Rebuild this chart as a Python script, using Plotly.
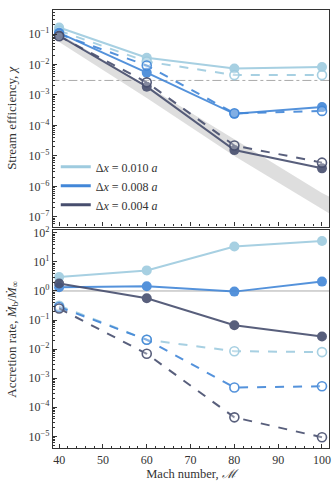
import plotly.graph_objects as go
from plotly.subplots import make_subplots

mach = [40, 60, 80, 100]
labels = ["0.010", "0.008", "0.004"]
colors = ["#9ecbdf", "#4287d8", "#474e6e"]

# stream efficiency (top panel): solid = filled markers, dashed = open markers
chi_solid = [
    [0.165, 0.0166, 7.4e-3, 8.3e-3],
    [0.11, 5.4e-3, 2.4e-4, 4.0e-4],
    [0.088, 1.87e-3, 1.55e-5, 3.9e-6],
]
chi_dashed = [
    [0.13, 0.0125, 4.5e-3, 4.5e-3],
    [0.10, 9.3e-3, 2.5e-4, 3.0e-4],
    [0.085, 2.6e-3, 2.2e-5, 6.0e-6],
]
chi_ref = 3.0e-3

band_x = [40, 60, 80, 100, 102]
band_hi = [0.105, 2.0e-3, 3.5e-5, 6.0e-7, 4.4e-7]
band_lo = [0.055, 8.0e-4, 1.0e-5, 1.7e-7, 1.2e-7]

# accretion rate (bottom panel)
acc_solid = [
    [3.0, 5.1, 34.0, 52.0],
    [1.35, 1.45, 0.95, 2.1],
    [1.8, 0.56, 0.066, 0.027],
]
acc_dashed = [
    [0.31, 0.021, 8.5e-3, 7.9e-3],
    [0.28, 0.021, 4.8e-4, 5.3e-4],
    [0.25, 6.9e-3, 4.5e-5, 9.3e-6],
]

top_exps = [-7, -6, -5, -4, -3, -2, -1]
bot_exps = [-5, -4, -3, -2, -1, 0, 1, 2]

FONT = "Liberation Serif"
INK = "#333333"


def pow_text(e):
    return "10<sup>" + str(e).replace("-", "−") + "</sup>"


fig = make_subplots(rows=2, cols=1, shared_xaxes=True, vertical_spacing=0.01)

fig.add_trace(go.Scatter(x=band_x, y=band_lo, mode="lines", line=dict(width=0, color="#dddddd"),
                         showlegend=False, hoverinfo="skip"), row=1, col=1)
fig.add_trace(go.Scatter(x=band_x, y=band_hi, mode="lines", line=dict(width=0, color="#dddddd"),
                         fill="tonexty", fillcolor="rgba(200,200,200,0.6)",
                         showlegend=False, hoverinfo="skip"), row=1, col=1)
fig.add_trace(go.Scatter(x=[38, 103], y=[chi_ref, chi_ref], mode="lines",
                         line=dict(color="#aaaaaa", width=1, dash="dashdot"),
                         showlegend=False, hoverinfo="skip"), row=1, col=1)
fig.add_trace(go.Scatter(x=[38, 103], y=[1, 1], mode="lines",
                         line=dict(color="#aaaaaa", width=1),
                         showlegend=False, hoverinfo="skip"), row=2, col=1)

for i, lab in enumerate(labels):
    c = colors[i]
    fig.add_trace(go.Scatter(x=mach, y=chi_solid[i], mode="lines+markers", showlegend=False,
                             line=dict(color=c, width=2), opacity=0.9,
                             marker=dict(size=10, color=c)), row=1, col=1)
    fig.add_trace(go.Scatter(x=mach, y=chi_dashed[i], mode="lines+markers", showlegend=False,
                             line=dict(color=c, width=2, dash="dash"), opacity=0.9,
                             marker=dict(size=9, color="rgba(255,255,255,0.3)", symbol="circle",
                                         line=dict(color=c, width=1.6))), row=1, col=1)
    fig.add_trace(go.Scatter(x=mach, y=acc_solid[i], mode="lines+markers", showlegend=False,
                             line=dict(color=c, width=2), opacity=0.9,
                             marker=dict(size=10, color=c)), row=2, col=1)
    fig.add_trace(go.Scatter(x=mach, y=acc_dashed[i], mode="lines+markers", showlegend=False,
                             line=dict(color=c, width=2, dash="dash"), opacity=0.9,
                             marker=dict(size=9, color="rgba(255,255,255,0.3)", symbol="circle",
                                         line=dict(color=c, width=1.6))), row=2, col=1)

# legend entries: line samples only
for i, lab in enumerate(labels):
    fig.add_trace(go.Scatter(x=[None], y=[None], mode="lines", name=f"Δ<i>x</i> = {lab} <i>a</i>",
                             line=dict(color=colors[i], width=3)), row=1, col=1)

axis_common = dict(showline=True, mirror=True, linecolor=INK, linewidth=1.2,
                   ticks="inside", tickcolor=INK, showgrid=False, zeroline=False,
                   tickfont=dict(family=FONT, size=12, color=INK))

fig.update_xaxes(range=[38.6, 101.6], dtick=10, ticklen=4,
                 minor=dict(ticks="inside", dtick=2, ticklen=2, tickcolor=INK), **axis_common)
fig.update_xaxes(title=dict(text="Mach number, <i>ℳ</i>", font=dict(family=FONT, size=12.5, color=INK),
                            standoff=3), row=2, col=1)

fig.update_yaxes(type="log", ticklen=4,
                 minor=dict(ticks="inside", dtick="D1", ticklen=2, tickcolor=INK), **axis_common)
fig.update_yaxes(range=[-7.32, -0.21], domain=[0.5056, 1.0],
                 tickvals=[10.0 ** e for e in top_exps], ticktext=[pow_text(e) for e in top_exps],
                 title=dict(text="Stream efficiency, <i>χ</i>", font=dict(family=FONT, size=13, color=INK),
                            standoff=9), row=1, col=1)
fig.update_yaxes(range=[-5.4, 2.08], domain=[0.0, 0.4966],
                 tickvals=[10.0 ** e for e in bot_exps], ticktext=[pow_text(e) for e in bot_exps],
                 title=dict(text="Accretion rate, <i>Ṁ</i><sub>b</sub>/<i>Ṁ</i><sub>∞</sub>",
                            font=dict(family=FONT, size=13, color=INK), standoff=9), row=2, col=1)

fig.update_layout(
    width=336, height=483,
    margin=dict(l=53, r=7, t=5, b=35),
    paper_bgcolor="white", plot_bgcolor="white",
    font=dict(family=FONT, size=11, color=INK),
    showlegend=True,
    legend=dict(x=0.01, y=0.522, xanchor="left", yanchor="bottom", bgcolor="rgba(0,0,0,0)",
                font=dict(family=FONT, size=12, color=INK), tracegroupgap=0,
                traceorder="normal", itemwidth=30),
)

fig.write_html("out.html", config={"displayModeBar": False},
               post_script="document.body.style.margin='0';")
